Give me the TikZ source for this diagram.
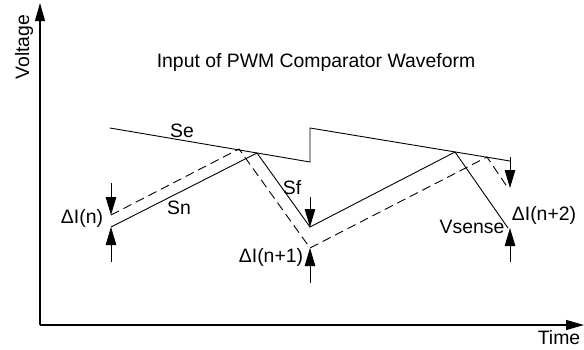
\documentclass[tikz,border=0pt]{standalone}
\usepackage{fontspec}
\setmainfont{Liberation Sans}
\usetikzlibrary{arrows.meta}
\begin{document}
\begin{tikzpicture}[x=1pt,y=-1pt,
    axis/.style={line width=1.3pt, -{Triangle[length=18pt,width=10pt]}},
    wave/.style={line width=0.9pt},
    shifted/.style={wave, dash pattern=on 9pt off 5pt},
    marker/.style={line width=0.9pt, -{Triangle[length=18pt,width=10.5pt]}},
    lbl/.style={font=\fontsize{19.4}{22}\selectfont, inner sep=0pt}]

    \useasboundingbox (0,0) rectangle (584,349);

    % Axes
    \coordinate (orig) at (40,325);
    \coordinate (vtop) at (40,3);
    \coordinate (tend) at (584,325);
    \draw[axis] (orig) -- (vtop);
    \draw[axis] (orig) -- (tend);
    \node[lbl, rotate=90] (volt) at (24,47) {Voltage};
    \node[lbl] (time) at (559,338) {Time};
    \node[lbl] (title) at (316,62) {Input of PWM Comparator Waveform};

    % Slope compensation Se
    \coordinate (se0) at (110,128);
    \coordinate (se1) at (310,162);
    \coordinate (se2) at (310,128);
    \coordinate (se3) at (510,161);
    \draw[wave] (se0) -- (se1) -- (se2) -- (se3);

    % Sensed current, solid
    \coordinate (sn0) at (111,227);
    \coordinate (pk1) at (257,153);
    \coordinate (vl1) at (310,227);
    \coordinate (pk2) at (455,152);
    \coordinate (sn3) at (508,228);
    \draw[wave] (sn0) -- (pk1) -- (vl1) -- (pk2) -- (sn3);

    % Perturbed current, dashed
    \coordinate (dn0) at (111,215);
    \coordinate (dp1) at (239,149);
    \coordinate (dv1) at (310,248);
    \coordinate (dp2) at (487,157);
    \coordinate (dn3) at (508,188);
    \draw[shifted] (dn0) -- (dp1) -- (dv1) -- (dp2) -- (dn3);

    % Delta markers
    \coordinate (a0) at (111,183);
    \coordinate (b0) at (111,262);
    \draw[marker] (a0) -- (dn0);
    \draw[marker] (b0) -- (sn0);

    \coordinate (a1) at (310,197);
    \coordinate (b1) at (310,283);
    \draw[marker] (a1) -- (vl1);
    \draw[marker] (b1) -- (dv1);

    \coordinate (a2) at (510,157);
    \coordinate (a2e) at (510,188);
    \coordinate (b2) at (510,262);
    \coordinate (b2e) at (510,228);
    \draw[marker] (a2) -- (a2e);
    \draw[marker] (b2) -- (b2e);

    % Labels
    \node[lbl] (se) at (182,131) {Se};
    \node[lbl] (sn) at (179,208) {Sn};
    \node[lbl] (sf) at (292,188) {Sf};
    \node[lbl] (vs) at (472,227) {Vsense};
    \node[lbl] (di0) at (82,218) {ΔI(n)};
    \node[lbl] (di1) at (271,257) {ΔI(n+1)};
    \node[lbl] (di2) at (544,215) {ΔI(n+2)};

\end{tikzpicture}
\end{document}
